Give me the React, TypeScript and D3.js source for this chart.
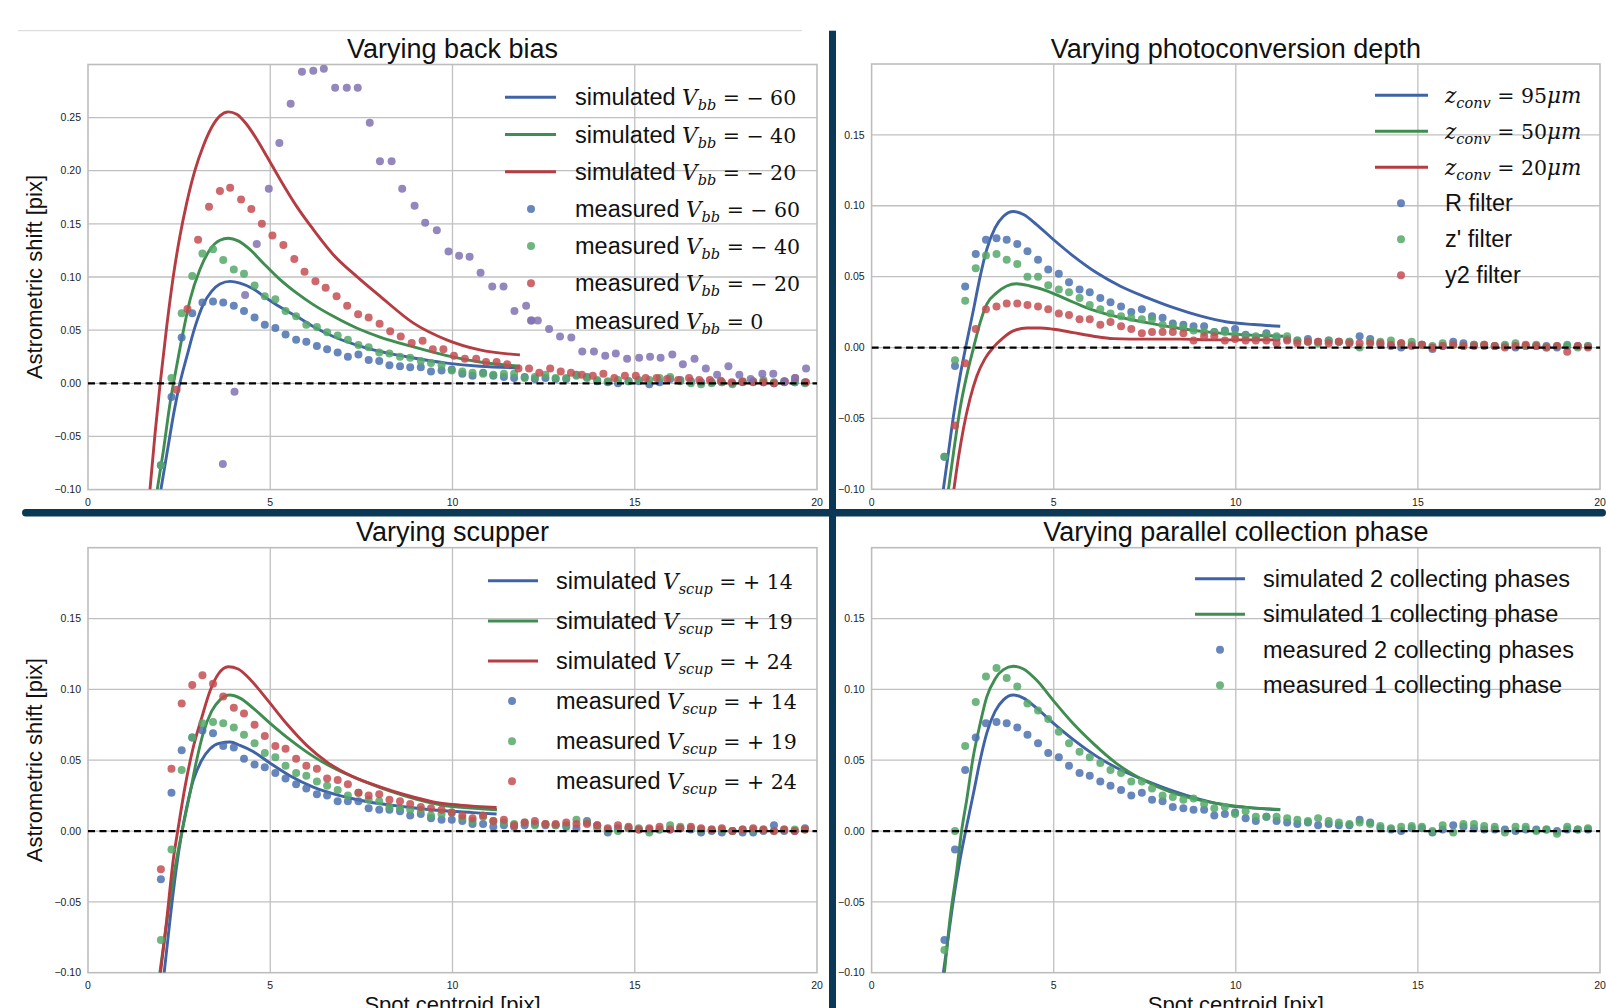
import React from "react";
import * as d3 from "d3";

const W = 1606;
const H = 1008;

// x positions of the measured spots (pix)
const X_GRID = [
  2.0, 2.29, 2.57, 2.86, 3.14, 3.43, 3.71, 4.0, 4.28, 4.57,
  4.85, 5.14, 5.42, 5.71, 5.99, 6.28, 6.56, 6.85, 7.13, 7.42,
  7.7, 7.99, 8.27, 8.56, 8.84, 9.13, 9.41, 9.7, 9.98, 10.27,
  10.55, 10.84, 11.12, 11.41, 11.69, 11.98, 12.26, 12.55, 12.83, 13.12,
  13.4, 13.69, 13.97, 14.26, 14.54, 14.83, 15.11, 15.4, 15.68, 15.97,
  16.25, 16.54, 16.82, 17.11, 17.39, 17.68, 17.96, 18.25, 18.53, 18.82,
  19.1, 19.39, 19.67,
];
const X_VBB20 = [
  2.43, 2.73, 3.02, 3.32, 3.62, 3.9, 4.2, 4.48, 4.77, 5.06,
  5.36, 5.66, 5.94, 6.24, 6.52, 6.82, 7.11, 7.41, 7.7, 8.0,
  8.29, 8.58, 8.88, 9.18, 9.46, 9.75, 10.04, 10.34, 10.65, 10.92,
  11.21, 11.5, 11.81, 12.1, 12.38, 12.68, 12.97, 13.25, 13.55, 13.85,
  14.14, 14.44, 14.73, 15.03, 15.3, 15.6, 15.89, 16.19, 16.49, 16.77,
  17.06, 17.36, 17.66, 17.95, 18.24, 18.53, 18.82, 19.12, 19.4, 19.7,
];
const X_VBB0 = [
  3.7, 4.02, 4.31, 4.63, 4.96, 5.25, 5.56, 5.87, 6.18, 6.47,
  6.78, 7.1, 7.4, 7.73, 8.01, 8.33, 8.62, 8.96, 9.25, 9.57,
  9.89, 10.18, 10.47, 10.77, 11.09, 11.4, 11.7, 12.02, 12.17, 12.34,
  12.65, 12.95, 13.26, 13.56, 13.88, 14.19, 14.48, 14.79, 15.12, 15.42,
  15.71, 16.03, 16.32, 16.64, 16.95, 17.26, 17.57, 17.87, 18.18, 18.5,
  18.8, 19.11, 19.4, 19.7,
];

// measured astrometric shift (pix)
const MEAS_BASE = [
  -0.077, -0.013, 0.043, 0.066, 0.076, 0.077, 0.076, 0.073, 0.068, 0.062,
  0.055, 0.052, 0.046, 0.041, 0.039, 0.035, 0.032, 0.029, 0.025, 0.027,
  0.022, 0.021, 0.017, 0.016, 0.015, 0.015, 0.011, 0.012, 0.013, 0.009,
  0.007, 0.01, 0.007, 0.006, 0.005, 0.006, 0.004, 0.005, 0.004, 0.004,
  0.008, 0.006, 0.002, 0.001, 0.0, 0.002, 0.002, -0.001, 0.001, 0.004,
  0.003, 0.002, 0.001, 0.001, 0.001, 0.0, 0.001, 0.001, 0.001, 0.0,
  0.001, 0.001, 0.001,
];
const MEAS_VBB40 = [
  -0.077, 0.005, 0.066, 0.101, 0.122, 0.126, 0.116, 0.107, 0.103, 0.092,
  0.082, 0.079, 0.068, 0.063, 0.055, 0.053, 0.048, 0.045, 0.041, 0.036,
  0.034, 0.029, 0.028, 0.025, 0.024, 0.021, 0.019, 0.017, 0.012, 0.011,
  0.01, 0.009, 0.008, 0.009, 0.009, 0.005, 0.006, 0.008, 0.005, 0.005,
  0.007, 0.005, 0.003, 0.002, 0.003, 0.002, 0.003, 0.003, 0.005, 0.006,
  0.002, 0.0, -0.001, 0.0, 0.001, -0.001, 0.002, 0.002, 0.003, 0.001,
  0.002, 0.001, 0.0,
];
const MEAS_VBB20 = [
  -0.006, 0.07, 0.135, 0.166, 0.181, 0.184, 0.173, 0.164, 0.15, 0.139,
  0.13, 0.117, 0.105, 0.096, 0.09, 0.082, 0.073, 0.065, 0.062, 0.056,
  0.049, 0.044, 0.038, 0.04, 0.032, 0.032, 0.026, 0.023, 0.023, 0.02,
  0.02, 0.018, 0.014, 0.014, 0.01, 0.014, 0.011, 0.01, 0.008, 0.007,
  0.009, 0.005, 0.007, 0.007, 0.005, 0.005, 0.004, 0.003, 0.005, 0.003,
  0.003, 0.0025, 0.001, 0.0015, 0.0015, 0.001, 0.0, 0.0015, 0.005, 0.001,
];
const MEAS_VBB0 = [
  -0.076, -0.008, 0.083, 0.131, 0.183, 0.226, 0.263, 0.293, 0.294, 0.296,
  0.278, 0.278, 0.278, 0.245, 0.209, 0.209, 0.183, 0.167, 0.151, 0.144,
  0.124, 0.12, 0.119, 0.104, 0.091, 0.091, 0.068, 0.073, 0.059, 0.059,
  0.051, 0.044, 0.043, 0.03, 0.03, 0.026, 0.028, 0.023, 0.024, 0.025,
  0.024, 0.027, 0.018, 0.023, 0.014, 0.008, 0.016, 0.008, 0.004, 0.009,
  0.009, 0.002, 0.005, 0.014,
];
const MEAS_ZFILTER = [
  -0.077, -0.009, 0.033, 0.056, 0.065, 0.066, 0.062, 0.059, 0.05, 0.05,
  0.044, 0.041, 0.039, 0.035, 0.03, 0.027, 0.024, 0.022, 0.021, 0.02,
  0.02, 0.016, 0.015, 0.014, 0.012, 0.011, 0.011, 0.011, 0.009, 0.008,
  0.008, 0.009, 0.008, 0.008, 0.005, 0.004, 0.003, 0.005, 0.004, 0.004,
  0.0, 0.004, 0.004, 0.005, 0.003, 0.004, 0.002, 0.001, 0.003, 0.002,
  0.001, 0.002, 0.002, 0.001, 0.002, 0.003, 0.001, 0.002, 0.0, 0.001,
  0.002, 0.0, 0.001,
];
const MEAS_Y2FILTER = [
  null, -0.055, -0.011, 0.013, 0.027, 0.029, 0.031, 0.031, 0.03, 0.029,
  0.027, 0.024, 0.023, 0.02, 0.02, 0.016, 0.018, 0.015, 0.013, 0.01,
  0.011, 0.011, 0.011, 0.01, 0.005, 0.008, 0.008, 0.005, 0.006, 0.005,
  0.005, 0.005, 0.003, 0.005, 0.003, 0.004, 0.004, 0.003, 0.004, 0.003,
  0.003, 0.003, 0.003, 0.002, 0.003, 0.001, 0.002, 0.0, 0.001, 0.002,
  0.001, 0.001, 0.002, 0.001, 0.0, 0.001, 0.002, 0.001, 0.0, 0.001,
  -0.003, 0.001, 0.0,
];
const MEAS_SCUP14 = [
  -0.034, 0.027, 0.057, 0.066, 0.071, 0.069, 0.06, 0.059, 0.051, 0.047,
  0.045, 0.041, 0.037, 0.033, 0.03, 0.026, 0.025, 0.021, 0.021, 0.021,
  0.016, 0.015, 0.015, 0.014, 0.011, 0.012, 0.009, 0.008, 0.008, 0.007,
  0.005, 0.005, 0.003, 0.004, 0.003, 0.004, 0.005, 0.004, 0.004, 0.003,
  0.002, 0.007, 0.004, -0.001, 0.002, 0.002, 0.001, 0.001, 0.001, 0.001,
  0.002, 0.001, -0.001, 0.0, -0.001, 0.0, -0.001, -0.001, 0.0, 0.004,
  0.0, 0.0, 0.002,
];
const MEAS_SCUP24 = [
  -0.027, 0.044, 0.09, 0.103, 0.11, 0.104, 0.095, 0.087, 0.083, 0.075,
  0.067, 0.06, 0.058, 0.051, 0.046, 0.044, 0.037, 0.036, 0.033, 0.027,
  0.025, 0.026, 0.022, 0.021, 0.019, 0.017, 0.016, 0.015, 0.013, 0.011,
  0.009, 0.011, 0.007, 0.008, 0.004, 0.006, 0.007, 0.005, 0.005, 0.006,
  0.005, 0.005, 0.004, 0.002, 0.004, 0.003, 0.001, 0.002, 0.003, 0.001,
  0.002, 0.003, 0.002, 0.001, 0.002, 0.0, 0.001, 0.002, 0.001, 0.0,
  0.001, 0.0, 0.001,
];
const MEAS_ONEPHASE = [
  -0.084, 0.0, 0.06, 0.091, 0.109, 0.115, 0.108, 0.102, 0.09, 0.085,
  0.079, 0.07, 0.062, 0.056, 0.052, 0.048, 0.043, 0.041, 0.035, 0.035,
  0.03, 0.025, 0.024, 0.022, 0.023, 0.019, 0.016, 0.017, 0.012, 0.014,
  0.01, 0.01, 0.01, 0.009, 0.008, 0.007, 0.009, 0.007, 0.006, 0.005,
  0.006, 0.005, 0.0035, 0.002, 0.003, 0.0035, 0.003, 0.0, 0.004, -0.001,
  0.005, 0.005, 0.0035, 0.003, -0.001, 0.003, 0.003, 0.0, 0.001, -0.002,
  0.003, 0.001, 0.002,
];

// simulated curves
const SIM_BASE_X = [1.97, 2.11, 2.25, 2.43, 2.61, 2.8, 2.98, 3.16, 3.39, 3.62, 3.89, 4.17, 4.53, 4.99, 5.54, 6.18, 6.82, 7.56, 8.29, 9.02, 9.76, 10.49, 11.22];
const SIM_BASE_Y = [-0.1, -0.074, -0.048, -0.02, 0.0035, 0.027, 0.05, 0.069, 0.0844, 0.0926, 0.096, 0.0938, 0.0867, 0.0762, 0.0645, 0.0527, 0.0434, 0.0352, 0.0281, 0.0223, 0.018, 0.0162, 0.015];
const SIM_VBB60_X = [2.0, 2.18, 2.37, 2.52, 2.71, 2.94, 3.16, 3.39, 3.62, 3.9, 4.17, 4.54, 4.9, 5.27, 5.72, 6.18, 6.73, 7.37, 8.01, 8.93, 9.84, 10.75, 11.85];
const SIM_VBB60_Y = [-0.1, -0.063, -0.025, 0.0, 0.025, 0.0535, 0.074, 0.0865, 0.0934, 0.0959, 0.0943, 0.0887, 0.08, 0.0717, 0.063, 0.0535, 0.044, 0.036, 0.03, 0.0238, 0.019, 0.016, 0.0145];
const SIM_VBB40_X = [1.9, 2.07, 2.25, 2.43, 2.62, 2.8, 3.07, 3.35, 3.62, 3.85, 4.12, 4.44, 4.81, 5.27, 5.72, 6.18, 6.73, 7.37, 8.01, 8.93, 9.84, 10.75, 11.85];
const SIM_VBB40_Y = [-0.1, -0.063, -0.019, 0.0157, 0.05, 0.0786, 0.107, 0.126, 0.1346, 0.1365, 0.134, 0.126, 0.113, 0.0975, 0.085, 0.074, 0.063, 0.052, 0.0435, 0.0342, 0.026, 0.02, 0.016];
const SIM_VBB20_X = [1.7, 1.84, 1.98, 2.16, 2.34, 2.52, 2.71, 2.94, 3.16, 3.39, 3.62, 3.85, 4.08, 4.35, 4.63, 4.9, 5.27, 5.72, 6.18, 6.73, 7.37, 8.01, 8.93, 9.84, 10.75, 11.85];
const SIM_VBB20_Y = [-0.1, -0.047, 0.0, 0.0535, 0.1006, 0.138, 0.17, 0.201, 0.223, 0.2406, 0.2516, 0.2553, 0.2531, 0.2437, 0.2296, 0.2138, 0.1918, 0.1667, 0.1447, 0.121, 0.1006, 0.082, 0.0566, 0.0409, 0.0314, 0.0267];
const SIM_Z50_X = [2.11, 2.25, 2.43, 2.61, 2.8, 2.98, 3.16, 3.44, 3.71, 3.98, 4.35, 4.81, 5.36, 5.91, 6.64, 7.56, 8.47, 9.39, 10.3, 11.31];
const SIM_Z50_Y = [-0.1, -0.074, -0.043, -0.02, 0.0, 0.0176, 0.0305, 0.0387, 0.0434, 0.045, 0.0434, 0.04, 0.034, 0.028, 0.0223, 0.0176, 0.0134, 0.0105, 0.0089, 0.008];
const SIM_Z20_X = [2.26, 2.38, 2.52, 2.7, 2.89, 3.11, 3.34, 3.62, 3.89, 4.26, 4.63, 4.99, 5.54, 6.09, 6.64, 7.56, 8.47, 9.39, 10.3, 11.22];
const SIM_Z20_Y = [-0.1, -0.0785, -0.0574, -0.0363, -0.02, -0.008, 0.0, 0.007, 0.0117, 0.0138, 0.0138, 0.0129, 0.0105, 0.008, 0.0063, 0.0059, 0.0059, 0.0054, 0.0054, 0.0054];
const SIM_SCUP14_X = [2.09, 2.25, 2.43, 2.57, 2.71, 2.89, 3.12, 3.35, 3.62, 3.9, 4.17, 4.54, 4.99, 5.54, 6.18, 6.91, 7.83, 8.74, 9.66, 10.57, 11.21];
const SIM_SCUP14_Y = [-0.1, -0.0626, -0.025, -0.0016, 0.0171, 0.0359, 0.05, 0.0581, 0.0621, 0.0628, 0.0605, 0.056, 0.048, 0.039, 0.031, 0.025, 0.02, 0.017, 0.0145, 0.013, 0.012];
const SIM_SCUP24_X = [1.99, 2.16, 2.34, 2.48, 2.66, 2.89, 3.12, 3.35, 3.58, 3.85, 4.12, 4.45, 4.9, 5.45, 6.0, 6.55, 7.28, 8.01, 8.74, 9.47, 10.21, 11.21];
const SIM_SCUP24_Y = [-0.1, -0.0626, -0.02, 0.003, 0.031, 0.0593, 0.08, 0.099, 0.111, 0.116, 0.1144, 0.107, 0.0933, 0.0757, 0.0605, 0.0488, 0.0382, 0.0312, 0.0253, 0.0206, 0.0183, 0.0166];
const SIM_ONEPHASE_X = [2.0, 2.15, 2.34, 2.47, 2.61, 2.79, 2.98, 3.16, 3.39, 3.62, 3.89, 4.17, 4.54, 4.99, 5.54, 6.09, 6.73, 7.47, 8.2, 9.02, 9.94, 11.22];
const SIM_ONEPHASE_Y = [-0.1, -0.0626, -0.0274, 0.0, 0.0218, 0.0523, 0.0757, 0.0945, 0.1074, 0.1139, 0.1163, 0.1144, 0.1062, 0.0921, 0.0757, 0.0617, 0.0476, 0.0359, 0.0277, 0.0218, 0.0178, 0.0152];

const X_TICKS = [0, 5, 10, 15, 20];
const Y_TICKS_BACKBIAS = [-0.1, -0.05, 0, 0.05, 0.1, 0.15, 0.2, 0.25];
const Y_TICKS = [-0.1, -0.05, 0, 0.05, 0.1, 0.15];

const TITLES = [
  "Varying back bias",
  "Varying photoconversion depth",
  "Varying scupper",
  "Varying parallel collection phase",
];
const Y_LABEL = "Astrometric shift [pix]";
const X_LABEL = "Spot centroid [pix]";

// legend labels: [text, style]
const LBL_BACKBIAS = [
  [["simulated ", "sans"], ["V", "it"], ["bb", "sub"], [" = − 60", "rm"]],
  [["simulated ", "sans"], ["V", "it"], ["bb", "sub"], [" = − 40", "rm"]],
  [["simulated ", "sans"], ["V", "it"], ["bb", "sub"], [" = − 20", "rm"]],
  [["measured ", "sans"], ["V", "it"], ["bb", "sub"], [" = − 60", "rm"]],
  [["measured ", "sans"], ["V", "it"], ["bb", "sub"], [" = − 40", "rm"]],
  [["measured ", "sans"], ["V", "it"], ["bb", "sub"], [" = − 20", "rm"]],
  [["measured ", "sans"], ["V", "it"], ["bb", "sub"], [" = 0", "rm"]],
];
const LBL_DEPTH = [
  [["z", "it"], ["conv", "sub"], [" = 95", "rm"], ["μm", "it"]],
  [["z", "it"], ["conv", "sub"], [" = 50", "rm"], ["μm", "it"]],
  [["z", "it"], ["conv", "sub"], [" = 20", "rm"], ["μm", "it"]],
  [["R filter", "sans"]],
  [["z' filter", "sans"]],
  [["y2 filter", "sans"]],
];
const LBL_SCUP = [
  [["simulated ", "sans"], ["V", "it"], ["scup", "sub"], [" = + 14", "rm"]],
  [["simulated ", "sans"], ["V", "it"], ["scup", "sub"], [" = + 19", "rm"]],
  [["simulated ", "sans"], ["V", "it"], ["scup", "sub"], [" = + 24", "rm"]],
  [["measured ", "sans"], ["V", "it"], ["scup", "sub"], [" = + 14", "rm"]],
  [["measured ", "sans"], ["V", "it"], ["scup", "sub"], [" = + 19", "rm"]],
  [["measured ", "sans"], ["V", "it"], ["scup", "sub"], [" = + 24", "rm"]],
];
const LBL_PHASE = [
  [["simulated 2 collecting phases", "sans"]],
  [["simulated 1 collecting phase", "sans"]],
  [["measured 2 collecting phases", "sans"]],
  [["measured 1 collecting phase", "sans"]],
];

const BLUE = "#4c72b0";
const GREEN = "#55a868";
const RED = "#c44e52";
const PURPLE = "#8172b2";
const BLUE_L = "#3f63a6";
const GREEN_L = "#3f8d50";
const RED_L = "#b53c42";
const NAVY = "#0b3854";
const SANS = "'Liberation Sans', Arial, sans-serif";
const SERIF = "'DejaVu Serif', serif";

type Sim = { xs: number[]; ys: number[]; color: string };
type Meas = { xs: number[]; ys: (number | null)[]; color: string };
type Leg = { kind: "line" | "dot"; color: string; parts: string[][] };

const pairs = (xs: number[], ys: (number | null)[]) =>
  ys
    .map((v, i) => [xs[i], v] as [number, number | null])
    .filter((d) => d[1] !== null && d[0] !== undefined) as [number, number][];

function Label({ x, y, parts }: { x: number; y: number; parts: string[][] }) {
  let shift = 0;
  return (
    <text x={x} y={y} fontFamily={SANS} fontSize={23.5} fill="#111" style={{ whiteSpace: "pre" }}>
      {parts.map(([t, s], i) => {
        let dy = 0;
        if (s === "sub" && shift === 0) { dy = 5; shift = 5; }
        else if (s !== "sub" && shift !== 0) { dy = -5; shift = 0; }
        const props: any = { key: i, dy };
        if (s === "sans") return <tspan {...props}>{t}</tspan>;
        if (s === "it") return <tspan {...props} fontFamily={SERIF} fontStyle="italic" fontSize={21.5}>{t}</tspan>;
        if (s === "sub") return <tspan {...props} fontFamily={SERIF} fontStyle="italic" fontSize={14.5}>{t}</tspan>;
        return <tspan {...props} fontFamily={SERIF} fontSize={20.5}>{t}</tspan>;
      })}
    </text>
  );
}

type PanelProps = {
  id: string;
  left: number; right: number; top: number; bottom: number;
  yMax: number; yTicks: number[];
  title: string;
  sims: Sim[]; meas: Meas[];
  legend: Leg[];
  lg: { h1: number; h2: number; mx: number; tx: number; y0: number; step: number };
  yLabel: boolean; xLabel: boolean;
};

function Panel(p: PanelProps) {
  const x = d3.scaleLinear().domain([0, 20]).range([p.left, p.right]);
  const y = d3.scaleLinear().domain([-0.1, p.yMax]).range([p.bottom, p.top]);
  const line = d3
    .line<[number, number]>()
    .x((d) => x(d[0]))
    .y((d) => y(d[1]))
    .curve(d3.curveMonotoneX);
  const fmt = d3.format(".2f");
  const cx = (p.left + p.right) / 2;
  const cy = (p.top + p.bottom) / 2;

  return (
    <g>
      <defs>
        <clipPath id={p.id}>
          <rect x={p.left} y={p.top} width={p.right - p.left} height={p.bottom - p.top} />
        </clipPath>
      </defs>
      <rect x={p.left} y={p.top} width={p.right - p.left} height={p.bottom - p.top} fill="#fff" />
      {p.yTicks.slice(1).map((t) => (
        <line key={"gy" + t} x1={p.left} x2={p.right} y1={y(t)} y2={y(t)} stroke="#c0c0c0" strokeWidth={1.3} />
      ))}
      {X_TICKS.slice(1, -1).map((t) => (
        <line key={"gx" + t} x1={x(t)} x2={x(t)} y1={p.top} y2={p.bottom} stroke="#c0c0c0" strokeWidth={1.3} />
      ))}
      <rect x={p.left} y={p.top} width={p.right - p.left} height={p.bottom - p.top} fill="none" stroke="#bdbdbd" strokeWidth={1.6} />
      <g clipPath={`url(#${p.id})`}>
        {p.sims.map((s, i) => (
          <path key={"s" + i} d={line(pairs(s.xs, s.ys)) || ""} fill="none" stroke={s.color} strokeWidth={2.9} />
        ))}
        {p.meas.map((m, i) => (
          <g key={"m" + i} fill={m.color} fillOpacity={0.85}>
            {pairs(m.xs, m.ys).map((d, j) => (
              <circle key={j} cx={x(d[0])} cy={y(d[1])} r={4} />
            ))}
          </g>
        ))}
        <line x1={x(0)} x2={x(20)} y1={y(0)} y2={y(0)} stroke="#000" strokeWidth={2.2} strokeDasharray="7,4.5" />
      </g>
      {p.yTicks.map((t) => (
        <text key={"ty" + t} x={p.left - 7} y={y(t) + 3.7} textAnchor="end" fontFamily={SANS} fontSize={10.5} fill="#222">
          {fmt(t).replace("-", "−")}
        </text>
      ))}
      {X_TICKS.map((t) => (
        <text key={"tx" + t} x={x(t)} y={p.bottom + 16.5} textAnchor="middle" fontFamily={SANS} fontSize={10.5} fill="#222">
          {t}
        </text>
      ))}
      <text x={cx} y={p.top - 6.5} textAnchor="middle" fontFamily={SANS} fontSize={27} fill="#111">
        {p.title}
      </text>
      {p.yLabel && (
        <text transform={`translate(41.5,${cy}) rotate(-90)`} textAnchor="middle" fontFamily={SANS} fontSize={22} fill="#111">
          {Y_LABEL}
        </text>
      )}
      {p.xLabel && (
        <text x={cx} y={p.bottom + 39.5} textAnchor="middle" fontFamily={SANS} fontSize={22} fill="#111">
          {X_LABEL}
        </text>
      )}
      {p.legend.map((l, i) => {
        const ly = p.lg.y0 + i * p.lg.step;
        return (
          <g key={"l" + i}>
            {l.kind === "line" ? (
              <line x1={p.lg.h1} x2={p.lg.h2} y1={ly} y2={ly} stroke={l.color} strokeWidth={3} />
            ) : (
              <circle cx={p.lg.mx} cy={ly} r={4} fill={l.color} fillOpacity={0.85} />
            )}
            <Label x={p.lg.tx} y={ly + 8} parts={l.parts} />
          </g>
        );
      })}
    </g>
  );
}

export default function App() {
  const L = { left: 88, right: 817 };
  const R = { left: 871.6, right: 1600 };
  const T = { top: 64.5, bottom: 489.6 };
  const B = { top: 547.7, bottom: 972.7 };

  return (
    <svg width={W} height={H} style={{ position: "absolute", left: 0, top: 0, display: "block" }} xmlns="http://www.w3.org/2000/svg">
      <rect width={W} height={H} fill="#fff" />
      <line x1={18} x2={802} y1={30.7} y2={30.7} stroke="#d6d6d6" strokeWidth={1} />
      <Panel
        id="c1" {...L} {...T} yMax={0.2999} yTicks={Y_TICKS_BACKBIAS} title={TITLES[0]}
        sims={[
          { xs: SIM_VBB60_X, ys: SIM_VBB60_Y, color: BLUE_L },
          { xs: SIM_VBB40_X, ys: SIM_VBB40_Y, color: GREEN_L },
          { xs: SIM_VBB20_X, ys: SIM_VBB20_Y, color: RED_L },
        ]}
        meas={[
          { xs: X_GRID, ys: MEAS_BASE, color: BLUE },
          { xs: X_GRID, ys: MEAS_VBB40, color: GREEN },
          { xs: X_VBB20, ys: MEAS_VBB20, color: RED },
          { xs: X_VBB0, ys: MEAS_VBB0, color: PURPLE },
        ]}
        legend={[
          { kind: "line", color: BLUE_L, parts: LBL_BACKBIAS[0] },
          { kind: "line", color: GREEN_L, parts: LBL_BACKBIAS[1] },
          { kind: "line", color: RED_L, parts: LBL_BACKBIAS[2] },
          { kind: "dot", color: BLUE, parts: LBL_BACKBIAS[3] },
          { kind: "dot", color: GREEN, parts: LBL_BACKBIAS[4] },
          { kind: "dot", color: RED, parts: LBL_BACKBIAS[5] },
          { kind: "dot", color: PURPLE, parts: LBL_BACKBIAS[6] },
        ]}
        lg={{ h1: 505, h2: 556, mx: 531, tx: 575, y0: 97.3, step: 37.2 }}
        yLabel xLabel={false}
      />
      <Panel
        id="c2" {...R} top={64} bottom={489.3} yMax={0.2} yTicks={Y_TICKS} title={TITLES[1]}
        sims={[
          { xs: SIM_BASE_X, ys: SIM_BASE_Y, color: BLUE_L },
          { xs: SIM_Z50_X, ys: SIM_Z50_Y, color: GREEN_L },
          { xs: SIM_Z20_X, ys: SIM_Z20_Y, color: RED_L },
        ]}
        meas={[
          { xs: X_GRID, ys: MEAS_BASE, color: BLUE },
          { xs: X_GRID, ys: MEAS_ZFILTER, color: GREEN },
          { xs: X_GRID, ys: MEAS_Y2FILTER, color: RED },
        ]}
        legend={[
          { kind: "line", color: BLUE_L, parts: LBL_DEPTH[0] },
          { kind: "line", color: GREEN_L, parts: LBL_DEPTH[1] },
          { kind: "line", color: RED_L, parts: LBL_DEPTH[2] },
          { kind: "dot", color: BLUE, parts: LBL_DEPTH[3] },
          { kind: "dot", color: GREEN, parts: LBL_DEPTH[4] },
          { kind: "dot", color: RED, parts: LBL_DEPTH[5] },
        ]}
        lg={{ h1: 1375, h2: 1428, mx: 1401, tx: 1445, y0: 95.3, step: 36 }}
        yLabel={false} xLabel={false}
      />
      <Panel
        id="c3" {...L} {...B} yMax={0.2} yTicks={Y_TICKS} title={TITLES[2]}
        sims={[
          { xs: SIM_SCUP14_X, ys: SIM_SCUP14_Y, color: BLUE_L },
          { xs: SIM_BASE_X, ys: SIM_BASE_Y, color: GREEN_L },
          { xs: SIM_SCUP24_X, ys: SIM_SCUP24_Y, color: RED_L },
        ]}
        meas={[
          { xs: X_GRID, ys: MEAS_SCUP14, color: BLUE },
          { xs: X_GRID, ys: MEAS_BASE, color: GREEN },
          { xs: X_GRID, ys: MEAS_SCUP24, color: RED },
        ]}
        legend={[
          { kind: "line", color: BLUE_L, parts: LBL_SCUP[0] },
          { kind: "line", color: GREEN_L, parts: LBL_SCUP[1] },
          { kind: "line", color: RED_L, parts: LBL_SCUP[2] },
          { kind: "dot", color: BLUE, parts: LBL_SCUP[3] },
          { kind: "dot", color: GREEN, parts: LBL_SCUP[4] },
          { kind: "dot", color: RED, parts: LBL_SCUP[5] },
        ]}
        lg={{ h1: 488, h2: 538, mx: 512, tx: 556, y0: 580.8, step: 40.1 }}
        yLabel xLabel
      />
      <Panel
        id="c4" {...R} {...B} yMax={0.2} yTicks={Y_TICKS} title={TITLES[3]}
        sims={[
          { xs: SIM_BASE_X, ys: SIM_BASE_Y, color: BLUE_L },
          { xs: SIM_ONEPHASE_X, ys: SIM_ONEPHASE_Y, color: GREEN_L },
        ]}
        meas={[
          { xs: X_GRID, ys: MEAS_BASE, color: BLUE },
          { xs: X_GRID, ys: MEAS_ONEPHASE, color: GREEN },
        ]}
        legend={[
          { kind: "line", color: BLUE_L, parts: LBL_PHASE[0] },
          { kind: "line", color: GREEN_L, parts: LBL_PHASE[1] },
          { kind: "dot", color: BLUE, parts: LBL_PHASE[2] },
          { kind: "dot", color: GREEN, parts: LBL_PHASE[3] },
        ]}
        lg={{ h1: 1195, h2: 1245, mx: 1220, tx: 1263, y0: 578.8, step: 35.5 }}
        yLabel={false} xLabel
      />
      <rect x={829} y={30.7} width={7} height={H - 30.7} fill={NAVY} />
      <rect x={22} y={509} width={W - 22} height={7.5} rx={3.7} fill={NAVY} />
    </svg>
  );
}
